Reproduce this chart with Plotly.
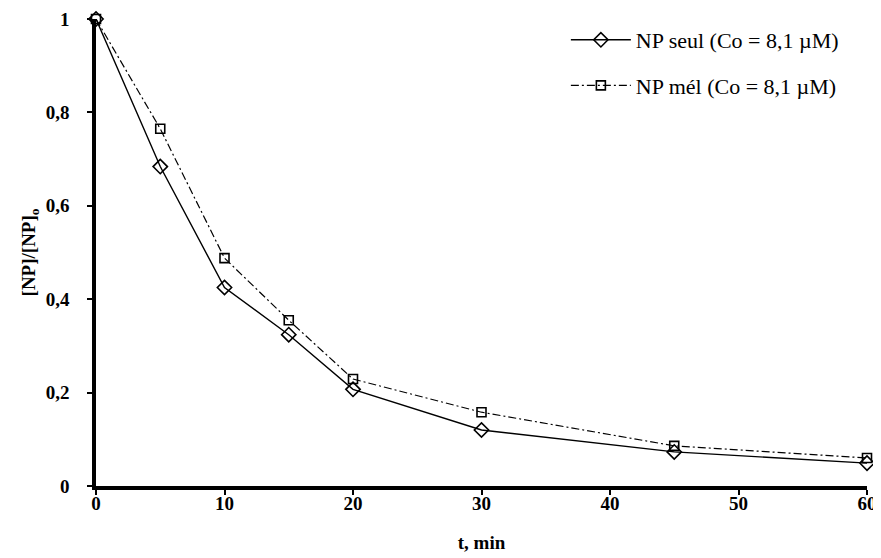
import plotly.graph_objects as go

t_min = [0, 5, 10, 15, 20, 30, 45, 60]
np_seul = [1.0, 0.684, 0.425, 0.324, 0.207, 0.120, 0.073, 0.049]
np_mel = [1.0, 0.765, 0.488, 0.355, 0.229, 0.158, 0.086, 0.060]

x_ticks = [0, 10, 20, 30, 40, 50, 60]
y_ticks = [0, 0.2, 0.4, 0.6, 0.8, 1.0]
y_tick_labels = ["0", "0,2", "0,4", "0,6", "0,8", "1"]

font_family = "Liberation Serif"

fig = go.Figure()
fig.add_trace(go.Scatter(
    x=t_min, y=np_seul, mode="lines+markers", name="NP seul (Co = 8,1 µM)",
    line=dict(color="black", width=1.4),
    marker=dict(symbol="diamond-open", size=11, color="black", line=dict(width=1.6)),
    cliponaxis=False, legendgroup="a",
))
fig.add_trace(go.Scatter(
    x=t_min, y=np_mel, mode="lines+markers", name="NP mél (Co = 8,1 µM)",
    line=dict(color="black", width=1.2, dash="8px,3px,2px,3px"),
    marker=dict(symbol="square-open", size=9, color="black", line=dict(width=1.6)),
    cliponaxis=False, legendgroup="b",
))

# page body has an 8px margin, so the figure is offset by 8px
fig.update_layout(
    width=873, height=550,
    margin=dict(l=88, r=14, t=11, b=72),
    paper_bgcolor="white", plot_bgcolor="white",
    font=dict(family=font_family, color="black", size=19),
    showlegend=True,
    legend=dict(
        x=0.97, y=1.0, xanchor="right", yanchor="top",
        bgcolor="rgba(0,0,0,0)", tracegroupgap=14,
        font=dict(size=22, family=font_family),
        itemwidth=60,
    ),
    xaxis=dict(
        range=[0, 60], tickvals=x_ticks, ticktext=[str(v) for v in x_ticks],
        showline=True, linecolor="black", linewidth=3.5,
        ticks="outside", tickcolor="black", tickwidth=2, ticklen=5,
        showgrid=False, zeroline=False, automargin=False,
        ticklabelstandoff=-8,
        tickfont=dict(size=19, family=font_family, weight="bold"),
        title=dict(text="<b>t, min</b>", font=dict(size=19, family=font_family), standoff=24),
    ),
    yaxis=dict(
        range=[0, 1], tickvals=y_ticks, ticktext=y_tick_labels,
        showline=True, linecolor="black", linewidth=3.5,
        ticks="outside", tickcolor="black", tickwidth=2, ticklen=5,
        showgrid=False, zeroline=False, automargin=False,
        ticklabelstandoff=14,
        tickfont=dict(size=19, family=font_family, weight="bold"),
        title=dict(text="<b>[NP]/[NP]<sub>o</sub></b>", font=dict(size=19, family=font_family), standoff=6),
    ),
)

fig.write_html("out.html")
